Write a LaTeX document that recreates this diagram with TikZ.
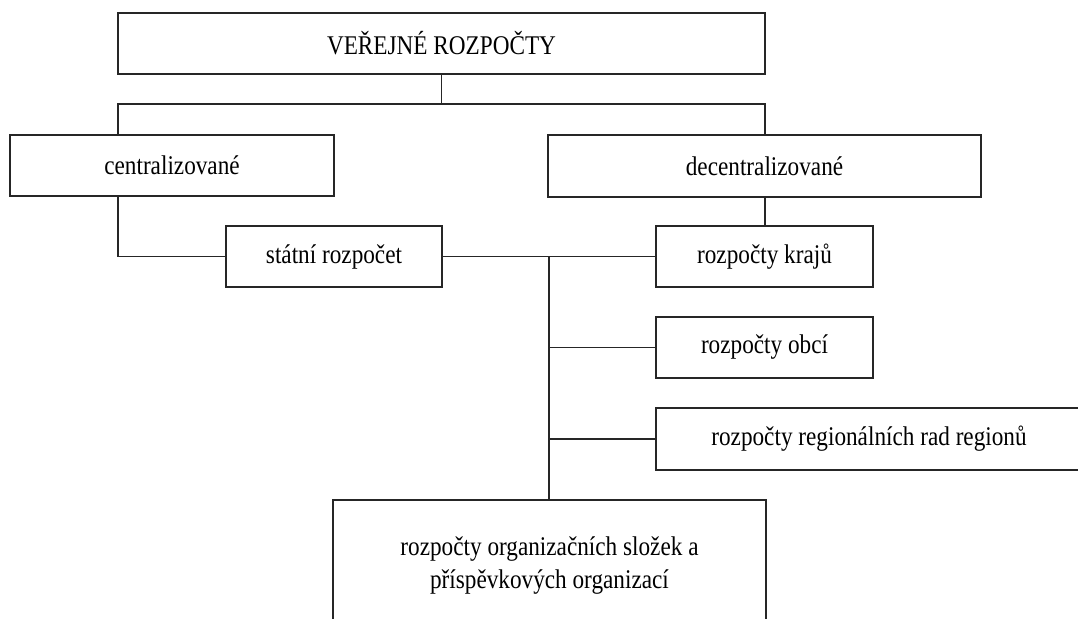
\documentclass[tikz,border=0pt]{standalone}
\usepackage{fontspec}
\setmainfont[FakeStretch=0.86]{Liberation Serif}
\begin{document}
\begin{tikzpicture}[x=1pt,y=-1pt,
  box/.style={draw=black!85,line width=1.6pt,inner sep=0pt,align=center,
    font=\fontsize{27}{33}\selectfont,text=black},
  link/.style={draw=black!85,line width=1.6pt}]
\useasboundingbox (0,0) rectangle (1078,618);
\clip (0,0) rectangle (1078,618);
\node[box,minimum width=647pt,minimum height=61pt] (top) at (441.5,43.5) {VEŘEJNÉ ROZPOČTY};
\node[box,minimum width=324pt,minimum height=61pt] (cent) at (172,165.5) {centralizované};
\node[box,minimum width=433pt,minimum height=62pt] (decent) at (764.5,166) {decentralizované};
\node[box,minimum width=216pt,minimum height=61pt] (statni) at (334,256.5) {státní rozpočet};
\node[box,minimum width=217pt,minimum height=61pt] (kraju) at (764.5,256.5) {rozpočty krajů};
\node[box,minimum width=217pt,minimum height=61pt] (obci) at (764.5,347.5) {rozpočty obcí};
\node[box,minimum width=426pt,minimum height=62pt] (reg) at (869,439) {rozpočty regionálních rad regionů};
\node[box,minimum width=433pt,minimum height=132pt] (org) at (549.5,566) {rozpočty organizačních složek a\\příspěvkových organizací};
\coordinate (hl) at (118,104);
\coordinate (hr) at (765,104);
\coordinate (tr) at (549,257);
\draw[link] (top.south) -- (top.south |- hl);
\draw[link] (cent.north -| hl) -- (hl) -- (hr) -- (decent.north -| hr);
\draw[link] (cent.south -| hl) |- (statni.west);
\draw[link] (decent.south -| hr) -- (kraju.north -| hr);
\draw[link] (statni.east) -- (kraju.west);
\draw[link] (tr) -- (org.north -| tr);
\draw[link] (obci.west -| tr) -- (obci.west);
\draw[link] (reg.west -| tr) -- (reg.west);
\end{tikzpicture}
\end{document}
